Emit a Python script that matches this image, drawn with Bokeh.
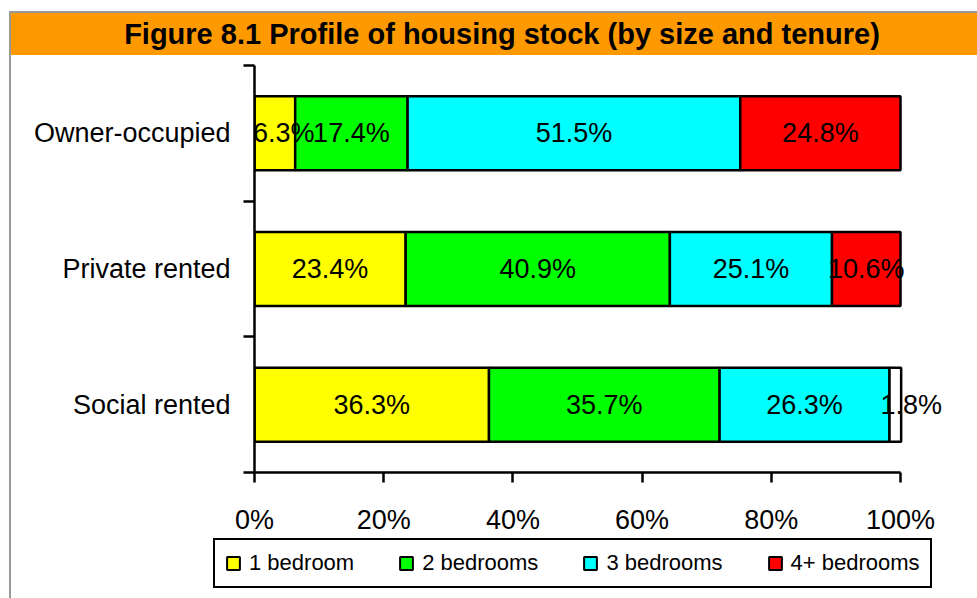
from bokeh.plotting import figure
from bokeh.models import (ColumnDataSource, Range1d, FixedTicker, PrintfTickFormatter,
                          Legend, LegendItem, Div, LabelSet)
from bokeh.layouts import column
from bokeh.core.properties import value
from bokeh.embed import file_html
from bokeh.resources import INLINE

title_text = "Figure 8.1 Profile of housing stock (by size and tenure)"
categories = ["Owner-occupied", "Private rented", "Social rented"]
series = ["1 bedroom", "2 bedrooms", "3 bedrooms", "4+ bedrooms"]
one_bed = [6.3, 23.4, 36.3]
two_bed = [17.4, 40.9, 35.7]
three_bed = [51.5, 25.1, 26.3]
four_bed = [24.8, 10.6, 1.8]
x_ticks = [0, 20, 40, 60, 80, 100]

colors = ["#FFFF00", "#00FF00", "#00FFFF", "#FF0000"]
# in the reference the Social rented 4+ segment is drawn unfilled
cell_fill = {(3, 2): "#FFFFFF"}
# labels nudged sideways (pixels) where the segment is too narrow for its text
label_nudge = {(0, 0): 9, (3, 2): 16}

FONT = "Liberation Sans"
values_by_series = [one_bed, two_bed, three_bed, four_bed]

n = len(categories)
ypos = [n - 0.5 - i for i in range(n)]

# frame extends a little past 100% so that labels near the end are not clipped
AXIS_PX = 646
FRAME_PX = 696
x_end = x_ticks[-1] * FRAME_PX / AXIS_PX

p = figure(width=966, height=483, x_range=Range1d(0, x_end), y_range=Range1d(0, n),
           output_backend="svg", toolbar_location=None,
           min_border_left=243, min_border_right=966 - 243 - FRAME_PX,
           min_border_top=10, min_border_bottom=66)
p.frame_align = False
p.outline_line_color = None
p.xgrid.visible = False
p.ygrid.visible = False
p.background_fill_color = "white"
p.border_fill_color = "white"

renderers = []
left = [0.0] * n
for j, vals in enumerate(values_by_series):
    right = [left[i] + vals[i] for i in range(n)]
    fills = [cell_fill.get((j, i), colors[j]) for i in range(n)]
    mids = [(left[i] + right[i]) / 2 for i in range(n)]
    xoff = [label_nudge.get((j, i), 0) for i in range(n)]
    src = ColumnDataSource(dict(y=ypos, left=list(left), right=right, fill=fills,
                                mid=mids, txt=[f"{v:.1f}%" for v in vals], xoff=xoff))
    r = p.hbar(y="y", left="left", right="right", height=0.545, source=src,
               fill_color="fill", line_color="black", line_width=2.5)
    renderers.append(r)
    left = right

for j in range(len(values_by_series)):
    src = renderers[j].data_source
    labels = LabelSet(x="mid", y="y", text="txt", source=src, x_offset="xoff",
                      text_align="center", text_baseline="middle",
                      text_font=value(FONT), text_font_size=value("27px"),
                      text_color=value("black"))
    p.add_layout(labels)

xa = p.xaxis[0]
xa.ticker = FixedTicker(ticks=x_ticks, minor_ticks=[])
xa.bounds = (x_ticks[0], x_ticks[-1])
xa.formatter = PrintfTickFormatter(format="%d%%")
xa.major_tick_out = 10
xa.major_tick_in = 0
xa.axis_line_width = 2.5
xa.major_tick_line_width = 2.5
xa.major_label_text_font = FONT
xa.major_label_text_font_size = "27px"
xa.major_label_text_color = "black"
xa.major_label_standoff = 22

ya = p.yaxis[0]
ya.ticker = FixedTicker(ticks=ypos, minor_ticks=[float(i) for i in range(n + 1)])
ya.major_label_overrides = {ypos[i]: categories[i] for i in range(n)}
ya.major_tick_line_color = None
ya.major_tick_out = 0
ya.major_tick_in = 0
ya.minor_tick_out = 11
ya.minor_tick_in = 0
ya.minor_tick_line_color = "black"
ya.minor_tick_line_width = 2.5
ya.axis_line_width = 2.5
ya.major_label_text_font = FONT
ya.major_label_text_font_size = "27px"
ya.major_label_text_color = "black"
ya.major_label_standoff = 13

# legend lives in its own strip below the chart; it lists the same series,
# whose renderers are hidden in this strip (only the legend is shown)
lg = figure(width=966, height=60, x_range=Range1d(0, 100), y_range=Range1d(0, n),
            output_backend="svg", toolbar_location=None,
            x_axis_location=None, y_axis_location=None, min_border=0)
lg.frame_align = False
lg.outline_line_color = None
lg.xgrid.visible = False
lg.ygrid.visible = False
lg_renderers = []
for j in range(len(series)):
    lr = lg.hbar(y="y", left="left", right="right", height=0.545,
                 source=renderers[j].data_source,
                 fill_color=colors[j], line_color="black", line_width=2)
    lr.visible = False
    lg_renderers.append(lr)
items = [LegendItem(label=series[j], renderers=[lg_renderers[j]], index=0)
         for j in range(len(series))]
legend = Legend(items=items, orientation="horizontal", location=(202, 10),
                border_line_color="black", border_line_width=2, border_line_alpha=1,
                label_text_font=FONT, label_text_font_size="22px", label_text_color="black",
                glyph_width=16, glyph_height=16, label_standoff=8, spacing=44,
                padding=10, margin=0, background_fill_color="white", background_fill_alpha=1,
                inactive_fill_alpha=0)
lg.add_layout(legend)

div = Div(text=(f'<div style="box-sizing:border-box;width:966px;height:44px;'
                f'border-top:2px solid #999999;background:#FF9900;color:black;'
                f'font-family:\'{FONT}\',Arial,sans-serif;font-weight:bold;font-size:29px;'
                f'line-height:42px;text-align:center;padding-left:16px;white-space:nowrap;">'
                f'{title_text}</div>'),
          width=966, height=44, margin=0)

layout = column(div, p, lg, styles={"border-left": "2px solid #999999",
                                    "margin-left": "9px", "margin-top": "11px"})

open("out.html", "w").write(file_html(layout, INLINE))
